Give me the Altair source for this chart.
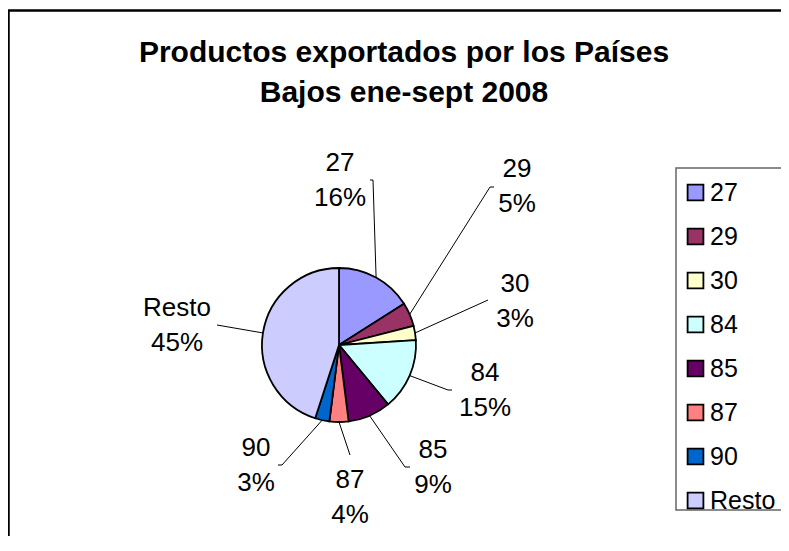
import math
import altair as alt
import pandas as pd

# ---- data ----
categories = ["27", "29", "30", "84", "85", "87", "90", "Resto"]
shares = [16, 5, 3, 15, 9, 4, 3, 45]
colors = ["#9999FF", "#993366", "#FFFFCC", "#CCFFFF", "#660066", "#FF8080", "#0066CC", "#CCCCFF"]
title_lines = ["Productos exportados por los Países", "Bajos ene-sept 2008"]

# ---- layout (page pixel coordinates) ----
FONT = "Liberation Sans"
W, H = 773, 528
CX, CY, R = 339, 345, 77
# label block centres as offsets from the pie centre
label_offsets = [(1, -165), (178, -159), (176, -44), (146, 45), (94, 122), (11, 152), (-83, 120), (-162, -20)]
# leader line bends/ends as offsets from the pie centre
leader_offsets = [
    [(34, -165), (31, -165)],
    [(151, -158), (155, -158)],
    [(149, -45)],
    [(109, 45), (113, 45)],
    [(66, 122), (71, 122)],
    [(11, 110)],
    [(-57, 120), (-61, 120)],
    [(-122, -20)],
]

total = sum(shares)
pie_df = pd.DataFrame({"cat": categories, "share": shares, "idx": range(len(categories))})

lab_rows, line_rows = [], []
cum = 0
for i, (c, s) in enumerate(zip(categories, shares)):
    mid = (cum + s / 2) / total * 2 * math.pi
    cum += s
    dx, dy = label_offsets[i]
    lab_rows.append({"x": CX + dx, "y": CY + dy, "text": f"{c}\n{s}%"})
    line_rows.append({"cat": c, "seq": 0, "x": CX + R * math.sin(mid), "y": CY - R * math.cos(mid)})
    for k, (ox, oy) in enumerate(leader_offsets[i]):
        line_rows.append({"cat": c, "seq": k + 1, "x": CX + ox, "y": CY + oy})
lab_df = pd.DataFrame(lab_rows)
line_df = pd.DataFrame(line_rows)

# frames: right/bottom edges lie outside the picture, as in the reference
frame_df = pd.DataFrame([
    {"x": 8.5, "x2": 820, "y": 10.5, "y2": 580, "kind": "outer"},
    {"x": 676, "x2": 820, "y": 168, "y2": 510, "kind": "legend"},
])

xs = alt.Scale(domain=[8, 8 + W], nice=False, zero=False)
ys = alt.Scale(domain=[8, 8 + H], nice=False, zero=False, reverse=True)

pie = alt.Chart(pie_df).mark_arc(outerRadius=R, stroke="black", strokeWidth=1.8).encode(
    theta=alt.Theta("share:Q", stack=True),
    order=alt.Order("idx:Q"),
    color=alt.Color(
        "cat:N",
        scale=alt.Scale(domain=categories, range=colors),
        sort=categories,
        legend=alt.Legend(
            title=None, orient="none", legendX=683 - 8, legendY=180 - 8,
            symbolType="square", symbolSize=250, symbolStrokeColor="black",
            symbolStrokeWidth=1.8, labelFontSize=25, labelFont=FONT, labelColor="black",
            rowPadding=18, labelOffset=2, padding=0, symbolOffset=0, labelLimit=300,
        ),
    ),
    x=alt.value(CX - 8),
    y=alt.value(CY - 8),
)

lines = alt.Chart(line_df).mark_line(color="black", strokeWidth=1).encode(
    x=alt.X("x:Q", scale=xs, axis=None),
    y=alt.Y("y:Q", scale=ys, axis=None),
    detail="cat:N",
    order="seq:Q",
)

labels = alt.Chart(lab_df).mark_text(
    font=FONT, fontSize=26, lineBreak="\n", lineHeight=35, align="center",
    baseline="middle", color="black", dy=-17.5,
).encode(x=alt.X("x:Q", scale=xs, axis=None), y=alt.Y("y:Q", scale=ys, axis=None), text="text:N")

outer = alt.Chart(frame_df).transform_filter("datum.kind == 'outer'").mark_rect(
    fillOpacity=0, stroke="black", strokeWidth=2.5
).encode(x=alt.X("x:Q", scale=xs, axis=None), x2="x2:Q", y=alt.Y("y:Q", scale=ys, axis=None), y2="y2:Q")

legframe = alt.Chart(frame_df).transform_filter("datum.kind == 'legend'").mark_rect(
    fillOpacity=0, stroke="#666666", strokeWidth=1.5
).encode(x=alt.X("x:Q", scale=xs, axis=None), x2="x2:Q", y=alt.Y("y:Q", scale=ys, axis=None), y2="y2:Q")

title_df = pd.DataFrame({"t": ["\n".join(title_lines)]})
title = alt.Chart(title_df).mark_text(
    font=FONT, fontSize=30, fontWeight="bold", lineBreak="\n", lineHeight=40,
    align="center", baseline="alphabetic", color="black",
).encode(x=alt.value(404 - 8), y=alt.value(62 - 8), text="t:N")

chart = alt.layer(outer, legframe, title, lines, pie, labels).properties(
    width=W, height=H, autosize=alt.AutoSizeParams(type="none"), padding=0
).configure_view(stroke=None)

chart.save("out.html", embed_options={"renderer": "svg", "actions": False})
